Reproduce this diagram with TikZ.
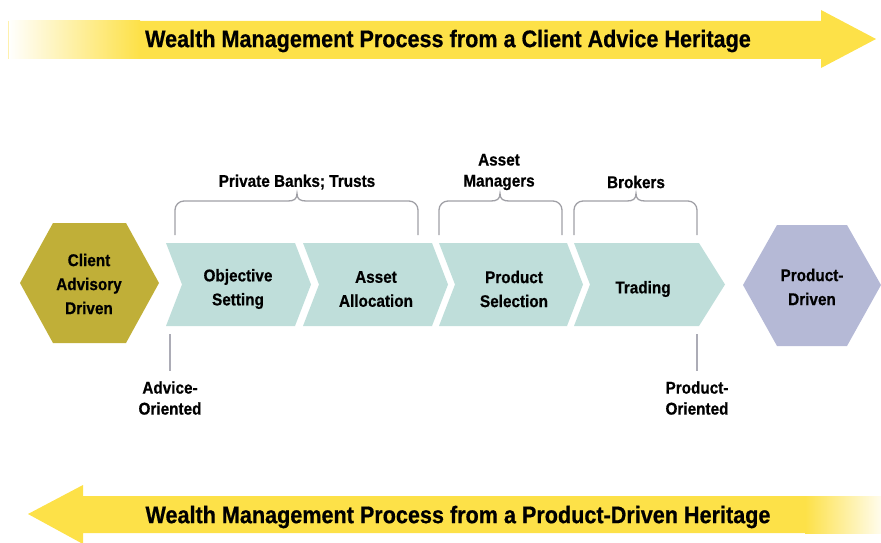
\documentclass[tikz,border=0pt]{standalone}
\usepackage{fontspec}
\setmainfont{Liberation Sans}[FakeStretch=0.9, BoldFeatures={FakeBold=0.6}]
\definecolor{ayellow}{RGB}{253,225,72}
\definecolor{colive}{RGB}{192,175,56}
\definecolor{cteal}{RGB}{191,222,218}
\definecolor{clav}{RGB}{181,185,214}
\definecolor{cbrace}{RGB}{160,160,166}
\definecolor{cvline}{RGB}{172,172,182}
\begin{document}
\begin{tikzpicture}[x=1pt,y=-1pt,
  lbl/.style={font=\fontsize{17}{24}\selectfont\bfseries, align=center, inner sep=0pt},
  smalllbl/.style={lbl, font=\fontsize{17}{21}\selectfont\bfseries},
  ttl/.style={font=\fontsize{24}{27}\selectfont\bfseries, inner sep=0pt},
  bracestyle/.style={draw=cbrace, line width=1.3pt},
  vline/.style={draw=cvline, line width=1.3pt}]
\useasboundingbox (0,0) rectangle (881,543);

% top arrow
\fill[ayellow] (8,21) -- (821,21) -- (821,10) -- (876,39) -- (821,68) -- (821,59) -- (8,59) -- cycle;
\shade[left color=white, right color=ayellow] (8,21) rectangle (140,59);
\draw[ayellow!45, line width=0.6pt] (8,21) -- (8,59);
\node[ttl] (t1) at (448,41) {Wealth Management Process from a Client Advice Heritage};

% bottom arrow
\fill[ayellow] (881,496) -- (83,496) -- (83,485) -- (28,514) -- (83,544) -- (83,533) -- (881,533) -- cycle;
\shade[left color=ayellow, right color=white!90!ayellow] (805,496) rectangle (881,533);
\node[ttl] (t2) at (458,517) {Wealth Management Process from a Product-Driven Heritage};

% left hexagon
\fill[colive] (20,283) -- (53,223) -- (126,223) -- (159,283) -- (126,343) -- (53,343) -- cycle;
\node[lbl] (client) at (89,284) {Client\\Advisory\\Driven};

% chevrons
\foreach \l/\r/\t in {166/295/311, 303/432/448, 439/567/583}
  \fill[cteal] (\l,243) -- (\r,243) -- (\t,284.5) -- (\r,326) -- (\l,326) -- (\l+16,284.5) -- cycle;
\fill[cteal] (574,243) -- (699,243) -- (725,284.5) -- (699,326) -- (574,326) -- (590,284.5) -- cycle;
\node[lbl] (obj) at (238,289) {Objective\\Setting};
\node[lbl] (alloc) at (376,289) {Asset\\Allocation};
\node[lbl] (prod) at (514,289) {Product\\Selection};
\node[lbl] (trade) at (643,289) {Trading};

% right hexagon
\fill[clav] (743,285) -- (777,225) -- (847,225) -- (881,285) -- (847,346) -- (777,346) -- cycle;
\node[lbl] (pdriven) at (812,287) {Product-\\Driven};

% braces
\foreach \L/\C/\R in {175/297/418, 439/500/562, 574/636/697}
  \draw[bracestyle] (\L,235) -- (\L,210) arc(180:270:9) -- (\C-9,201) .. controls (\C-3,201) and (\C,199) .. (\C,193.5) .. controls (\C,199) and (\C+3,201) .. (\C+9,201) -- (\R-9,201) arc(270:360:9) -- (\R,235);
\node[lbl] (banks) at (297,182) {Private Banks; Trusts};
\node[smalllbl] (amgr) at (499,172) {Asset\\Managers};
\node[lbl] (brokers) at (636,182) {Brokers};

% vertical markers
\coordinate (a1) at (170,334); \coordinate (a2) at (170,371);
\coordinate (p1) at (697,334); \coordinate (p2) at (697,371);
\draw[vline] (a1) -- (a2);
\draw[vline] (p1) -- (p2);
\node[smalllbl] (adv) at (170,398) {Advice-\\Oriented};
\node[smalllbl] (prodo) at (697,398) {Product-\\Oriented};
\end{tikzpicture}
\end{document}
